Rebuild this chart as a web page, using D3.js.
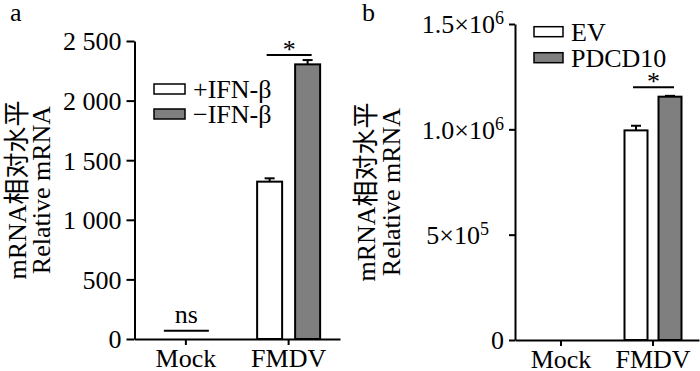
<!DOCTYPE html>
<html>
<head>
<meta charset="utf-8">
<script src="https://cdn.jsdelivr.net/npm/d3@7"></script>
<style>
  body { margin: 0; background: #fff; }
  svg text { font-family: "Liberation Serif", "Noto Sans CJK SC", serif; fill: #000; }
</style>
</head>
<body>
<div id="chart"></div>
<script>
// data
const groups = ["Mock", "FMDV"];

const seriesA = ["+IFN-β", "−IFN-β"];
const ifnPlus = [1, 1320];
const ifnPlusErr = [0, 28];
const ifnMinus = [1, 2304];
const ifnMinusErr = [0, 36];
const ticksA = [0, 500, 1000, 1500, 2000, 2500];
const sigA = [
  { group: "Mock", y: 70, text: "ns" },
  { group: "FMDV", y: 2382, text: "*" }
];

const seriesB = ["EV", "PDCD10"];
const ev = [1, 995000];
const evErr = [0, 22000];
const pdcd10 = [1, 1155000];
const pdcd10Err = [0, 4000];
const ticksB = [0, 500000, 1000000, 1500000];
const sigB = [
  { group: "FMDV", y: 1200000, text: "*" }
];

const fills = ["#ffffff", "#7f7f7f"];

const svg = d3.select("#chart")
  .append("svg")
  .attr("width", 700)
  .attr("height", 371);

function drawPanel(p) {
  const g = svg.append("g");

  const y = d3.scaleLinear().domain(p.yDomain).range([p.bottom, p.top]);
  const x = d3.scaleBand().domain(groups).range([p.left, p.right]);
  const inner = d3.scalePoint().domain(p.series).range([-p.offset, p.offset]);

  // bars
  p.series.forEach((s, si) => {
    const vals = p.values[si], errs = p.errors[si];
    groups.forEach((grp, gi) => {
      const cx = x(grp) + x.bandwidth() / 2 + inner(s);
      const top = y(vals[gi]);
      if (p.bottom - top < 1) return;
      g.append("rect")
        .attr("x", cx - p.barW / 2)
        .attr("y", top)
        .attr("width", p.barW)
        .attr("height", p.bottom - top)
        .attr("fill", fills[si])
        .attr("stroke", "#000")
        .attr("stroke-width", 2);
      const et = y(vals[gi] + errs[gi]);
      g.append("line")
        .attr("x1", cx).attr("x2", cx)
        .attr("y1", top).attr("y2", et)
        .attr("stroke", "#000").attr("stroke-width", 2);
      g.append("line")
        .attr("x1", cx - p.cap / 2).attr("x2", cx + p.cap / 2)
        .attr("y1", et).attr("y2", et)
        .attr("stroke", "#000").attr("stroke-width", 2);
    });
  });

  // significance marks
  p.sig.forEach(d => {
    const c = x(d.group) + x.bandwidth() / 2;
    const x1 = c + inner(p.series[0]) - 3, x2 = c + inner(p.series[1]) + 4;
    const yy = y(d.y);
    g.append("line")
      .attr("x1", x1).attr("x2", x2)
      .attr("y1", yy).attr("y2", yy)
      .attr("stroke", "#000").attr("stroke-width", 2);
    g.append("text")
      .attr("x", (x1 + x2) / 2)
      .attr("y", d.text === "*" ? yy + 3 : yy - 8)
      .attr("text-anchor", "middle")
      .attr("font-size", d.text === "*" ? "26px" : "26px")
      .text(d.text);
  });

  // y axis
  const yAxis = g.append("g")
    .attr("transform", `translate(${p.left},0)`)
    .call(d3.axisLeft(y).tickValues(p.ticks).tickSize(p.tickLen).tickPadding(5).tickSizeOuter(0).tickFormat(""));
  yAxis.selectAll("path, line").attr("stroke", "#000").attr("stroke-width", 2);
  yAxis.selectAll(".tick text").remove();
  yAxis.selectAll(".tick").each(function(d) {
    const t = d3.select(this).append("text")
      .attr("x", -p.tickLen - 5)
      .attr("dy", "0.34em")
      .attr("text-anchor", "end")
      .attr("font-size", "26px");
    p.label(t, d);
  });

  // x axis
  const xAxis = g.append("g")
    .attr("transform", `translate(0,${p.bottom})`)
    .call(d3.axisBottom(x).tickSize(6).tickSizeOuter(0).tickPadding(4));
  xAxis.selectAll("path, line").attr("stroke", "#000").attr("stroke-width", 2);
  xAxis.selectAll(".tick text")
    .attr("font-size", "26px")
    .attr("font-family", "Liberation Serif")
    .attr("dy", "0.7em")
    .attr("fill", "#000");

  // y title
  p.titleX.forEach((tx, i) => {
    g.append("text")
      .attr("transform", `translate(${tx},${p.titleY}) rotate(-90)`)
      .attr("text-anchor", "middle")
      .attr("font-size", "26px")
      .text(i === 0 ? "mRNA相对水平" : "Relative mRNA");
  });

  // legend
  p.series.forEach((s, si) => {
    const ly = p.legendY + si * p.legendGap;
    g.append("rect")
      .attr("x", p.legendX)
      .attr("y", ly - 5)
      .attr("width", p.legendW)
      .attr("height", 10)
      .attr("fill", fills[si])
      .attr("stroke", "#000")
      .attr("stroke-width", 1.5);
    g.append("text")
      .attr("x", p.legendX + p.legendW + 8)
      .attr("y", ly)
      .attr("dy", "0.35em")
      .attr("font-size", "26px")
      .text(s);
  });

  // panel letter
  g.append("text")
    .attr("x", p.letterX)
    .attr("y", 21)
    .attr("font-size", "26px")
    .text(p.letter);
}

drawPanel({
  letter: "a", letterX: 10,
  series: seriesA,
  values: [ifnPlus, ifnMinus],
  errors: [ifnPlusErr, ifnMinusErr],
  yDomain: [0, 2500], ticks: ticksA,
  left: 134.5, right: 340, top: 41, bottom: 339,
  offset: 19, barW: 25, cap: 10, tickLen: 8,
  sig: sigA,
  label: (t, d) => t.text(d >= 1000 ? d3.format(",")(d).replace(",", " ") : d),
  titleX: [26, 50], titleY: 190,
  legendX: 154, legendY: 89, legendW: 31, legendGap: 25
});

drawPanel({
  letter: "b", letterX: 362,
  series: seriesB,
  values: [ev, pdcd10],
  errors: [evErr, pdcd10Err],
  yDomain: [0, 1500000], ticks: ticksB,
  left: 515, right: 699, top: 24, bottom: 340,
  offset: 17, barW: 23, cap: 10, tickLen: 6,
  sig: sigB,
  label: (t, d) => {
    if (d === 0) { t.text("0"); return; }
    const e = Math.floor(Math.log10(d));
    const m = d / Math.pow(10, e);
    if (d === 500000) t.attr("dx", -15);
    t.append("tspan").text((d === 500000 ? m : m.toFixed(1)) + "×10");
    t.append("tspan").attr("dy", "-0.5em").attr("font-size", "18px").text(e);
  },
  titleX: [375, 400], titleY: 192,
  legendX: 534, legendY: 31.7, legendW: 29, legendGap: 26
});
</script>
</body>
</html>
